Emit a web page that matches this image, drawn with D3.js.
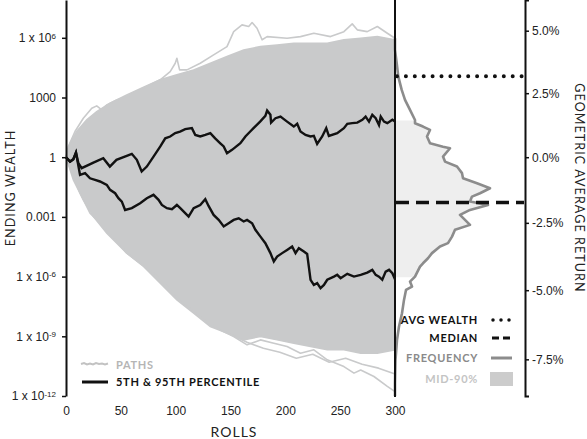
<!DOCTYPE html>
<html>
<head>
<meta charset="utf-8">
<script src="https://cdn.jsdelivr.net/npm/d3@7"></script>
<style>
  body { margin: 0; background: #fff; }
  .tick text { font-family: "Liberation Sans", Arial, sans-serif; font-size: 12px; fill: #222; }
  .title { font-family: Lato, "DejaVu Sans", sans-serif; font-size: 12.5px; letter-spacing: 1.1px; fill: #222; }
  .leg { font-family: Lato, "DejaVu Sans", sans-serif; font-size: 11px; letter-spacing: 0.7px; font-weight: bold; }
</style>
</head>
<body>
<svg width="587" height="439"></svg>
<script>
// ---- data (wealth given as log10 exponent) ----
// 95th percentile path
var p95Rolls = [0, 3.7, 6.7, 9.1, 11.3, 14.3, 25, 34, 40, 46, 55.4, 60, 64.6, 69, 73.7, 79.8, 86, 90.5, 95, 99.6, 104, 108.7, 114.8, 117.9, 122.4, 127, 131.6, 136, 140.7, 143.8, 146.8, 151.4, 159, 163.6, 168, 171, 177, 181.8, 183.4, 186.4, 187, 191, 195.6, 201.6, 207.7, 210.8, 213.8, 218.4, 223, 226, 229, 233.6, 237.3, 239.7, 247.3, 253.4, 256.5, 261, 265.6, 270.2, 273.2, 276.3, 279.3, 282.4, 285.4, 287, 290, 293, 297.6, 300];
var p95Exp   = [0, -0.22, -0.1, 0.23, -0.3, -0.55, -0.27, -0.05, -0.47, -0.13, 0.07, 0.17, -0.13, -0.72, -0.47, 0.03, 0.54, 0.95, 1.04, 1.21, 1.29, 1.41, 1.46, 1.12, 1.04, 1.12, 1.21, 0.95, 0.7, 0.54, 0.2, 0.37, 0.7, 1.04, 1.29, 1.46, 1.79, 2.08, 2.35, 2.13, 1.74, 1.96, 2.04, 1.79, 1.54, 1.68, 1.29, 1.12, 1.04, 1.07, 0.67, 1.04, 1.46, 1.07, 1.21, 1.46, 1.68, 1.71, 1.74, 1.88, 2.04, 1.79, 2.13, 1.96, 1.62, 2.04, 1.79, 1.71, 1.88, 1.79];

// 5th percentile path
var p5Rolls = [0, 3.7, 6.7, 9.1, 12.8, 17.4, 21.9, 26.5, 31, 37.2, 40.2, 44.8, 47.8, 50.9, 53.9, 60, 67.6, 73.7, 79.8, 84.4, 87.4, 92, 96.6, 101.1, 104.2, 108.7, 111.8, 116.4, 122.4, 127, 130, 134.6, 139.2, 143.8, 148.3, 152.9, 157.5, 162, 165.1, 169.7, 172.7, 177.3, 181.8, 186.4, 189.5, 192.5, 197.1, 201.6, 206.2, 209.3, 212.3, 216.9, 219.9, 221.4, 223, 226, 229, 232.1, 235.2, 238.2, 244.3, 247.3, 250.4, 256.5, 262.6, 268.7, 274.7, 279.3, 282.4, 285.4, 288.4, 291.5, 294.6, 297.6, 300];
var p5Exp   = [0, -0.22, -0.1, 0.23, -0.89, -0.8, -1.06, -1.14, -1.22, -1.39, -1.64, -1.81, -2.06, -2.23, -2.65, -2.56, -2.31, -2.06, -1.89, -2.14, -2.4, -2.56, -2.61, -2.4, -2.56, -2.81, -2.98, -2.56, -2.4, -2.11, -2.45, -2.9, -3.15, -3.48, -3.32, -3.15, -3.07, -3.23, -3.15, -3.32, -3.65, -3.99, -4.32, -4.82, -5.24, -4.99, -4.82, -4.66, -4.49, -4.82, -4.57, -4.74, -4.86, -5.49, -6.16, -6.42, -6.33, -6.58, -6.42, -6.16, -6, -5.91, -6.08, -5.86, -6, -5.91, -5.8, -5.66, -5.91, -6, -6.16, -5.75, -5.66, -5.83, -6.13];

// dense band of simulated paths (upper / lower edge)
var bandTopRolls = [0, 3.7, 9.7, 18.9, 28, 40.2, 55.4, 70.7, 85.9, 101.1, 116.4, 131.6, 146.8, 162, 177.3, 192.5, 207.7, 223, 238.2, 253.4, 268.7, 283.9, 300];
var bandTopExp   = [0, 0.7, 1.29, 1.88, 2.29, 2.71, 3.13, 3.52, 3.89, 4.14, 4.39, 4.72, 5.06, 5.39, 5.56, 5.64, 5.73, 5.73, 5.73, 5.9, 5.98, 6.06, 5.9];
var bandBotRolls = [0, 6.7, 15.8, 25, 37.2, 55.4, 70.7, 85.9, 101.1, 116.4, 131.6, 146.8, 162, 177.3, 192.5, 207.7, 223, 238.2, 253.4, 268.7, 283.9, 300];
var bandBotExp   = [0, -1.14, -2.14, -2.98, -3.82, -4.82, -5.49, -6.33, -7.17, -7.84, -8.51, -8.84, -9.18, -9.01, -9.18, -9.35, -9.51, -9.68, -9.68, -9.85, -9.85, -9.68];

// outlying single paths at the edges of the fan
var outTopRolls = [0, 2.1, 8.2, 15.8, 23.5, 28, 32.6, 37.2, 46.3, 55.4, 64.6, 73.7, 85.9, 95, 99.6, 101.1, 103.6, 110.3, 122.4, 134.6, 146.8, 152.9, 160.5, 166.6, 169.7, 174.2, 178.8, 183.4, 201.6, 213.8, 226, 241.2, 253.4, 261, 265.6, 274.7, 283.9, 293, 300];
var outTopExp   = [0, 0.54, 1.29, 1.96, 2.46, 2.58, 2.38, 2.63, 2.88, 3.05, 3.3, 3.55, 3.89, 4.3, 4.72, 4.97, 4.39, 4.39, 4.72, 5.14, 5.56, 6.31, 6.65, 6.57, 6.77, 6.48, 5.9, 6.06, 5.98, 6.06, 6.23, 6.06, 6.31, 6.7, 6.4, 6.31, 6.57, 6.23, 5.98];
var outBotRolls = [0, 12.8, 21.9, 34.1, 55.4, 67.6, 79.8, 95, 110.3, 125.5, 140.7, 152.9, 165.1, 177.3, 189.5, 201.6, 213.8, 226, 238.2, 253.4, 262.6, 268.7, 280.8, 293, 300];
var outBotExp   = [0, -1.81, -2.81, -3.48, -4.82, -5.33, -5.83, -6.67, -7.5, -8.17, -8.68, -9.01, -9.43, -9.18, -9.35, -9.51, -9.85, -9.68, -10.18, -10.52, -10.85, -10.69, -11.02, -11.52, -11.78];
var outMidRolls = [150, 165, 180, 195, 210, 225, 240, 255, 270, 285, 300];
var outMidExp   = [-8.9, -9.3, -9.6, -9.8, -10.1, -9.9, -10.3, -10.1, -10.4, -10.6, -10.9];

// distribution of ending wealth (frequency, right panel)
var histExp  = [5.98, 5.39, 4.72, 4.05, 3.38, 2.88, 2.38, 1.87, 1.71, 1.54, 1.37, 1.04, 0.7, 0.53, 0.45, 0.03, -0.22, -0.47, -0.8, -1.06, -1.31, -1.56, -1.81, -1.98, -2.23, -2.4, -2.65, -2.9, -3.4, -3.65, -3.99, -4.32, -4.49, -4.82, -5.08, -5.33, -5.5, -6, -6.25, -6.5, -6.67, -7.17, -7.84, -8.51, -9.18, -10.19, -11.34, -12];
var histFreq = [0, 0, 1.7, 3.3, 6.7, 10, 15, 20, 20, 28, 35, 32, 35, 48, 55, 48, 50, 62, 67, 68, 82, 95, 85, 77, 75, 93, 75, 65, 75, 60, 57, 53, 45, 37, 33, 28, 25, 20, 15, 17, 11, 9, 7, 4, 2, 0.5, 0, 0];

var avgWealthExp = 4.07;
var medianExp = -2.28;
var mid90Exp = [-6.03, 1.84];

var rollTicks = [0, 50, 100, 150, 200, 250, 300];
var wealthTicks = [1e-12, 1e-9, 1e-6, 1e-3, 1, 1e3, 1e6];
var wealthLabels = ["1 x 10|-12", "1 x 10|-9", "1 x 10|-6", "0.001", "1", "1000", "1 x 10|6"];
var returnTicks = [-7.5, -5, -2.5, 0, 2.5, 5];

// ---- scales ----
var svg = d3.select("svg");
var x = d3.scaleLinear().domain([0, 300]).range([66, 395]);
var y = d3.scaleLog().domain([1e-12, Math.pow(10, 7.9)]).range([396, 0]);
var fx = d3.scaleLinear().domain([0, 100]).range([395, 495]);

function zip(a, b) { return a.map(function (d, i) { return [d, b[i]]; }); }
var wline = d3.line()
  .x(function (d) { return x(d[0]); })
  .y(function (d) { return y(Math.pow(10, d[1])); });

var grey = "#c9cacb";

// dense fan of paths
var band = zip(bandTopRolls, bandTopExp).concat(zip(bandBotRolls, bandBotExp).reverse());
svg.append("path").attr("d", wline(band) + "Z").attr("fill", grey).attr("stroke", grey).attr("stroke-width", 1.5);

[[outTopRolls, outTopExp], [outBotRolls, outBotExp], [outMidRolls, outMidExp]].forEach(function (p) {
  svg.append("path").attr("d", wline(zip(p[0], p[1])))
    .attr("fill", "none").attr("stroke", grey).attr("stroke-width", 1.6).attr("stroke-linejoin", "round");
});

// percentile paths
[[p95Rolls, p95Exp], [p5Rolls, p5Exp]].forEach(function (p) {
  svg.append("path").attr("d", wline(zip(p[0], p[1])))
    .attr("fill", "none").attr("stroke", "#111").attr("stroke-width", 2.4).attr("stroke-linejoin", "miter");
});

// ---- right panel: distribution ----
var hist = zip(histExp, histFreq);
var fline = d3.line()
  .x(function (d) { return fx(d[1]); })
  .y(function (d) { return y(Math.pow(10, d[0])); });

var clip = svg.append("clipPath").attr("id", "mid90");
clip.append("rect")
  .attr("x", 395).attr("width", 130)
  .attr("y", y(Math.pow(10, mid90Exp[1])))
  .attr("height", y(Math.pow(10, mid90Exp[0])) - y(Math.pow(10, mid90Exp[1])));
svg.append("path")
  .attr("d", fline(hist) + "L" + fx(0) + "," + y(1e-12) + "L" + fx(0) + "," + y(Math.pow(10, 6)) + "Z")
  .attr("fill", "#eeeeee").attr("clip-path", "url(#mid90)");

svg.append("path").attr("d", fline(hist))
  .attr("fill", "none").attr("stroke", "#8c8c8c").attr("stroke-width", 2.6).attr("stroke-linejoin", "round");

svg.append("line")
  .attr("x1", 397).attr("x2", 524)
  .attr("y1", y(Math.pow(10, avgWealthExp))).attr("y2", y(Math.pow(10, avgWealthExp)))
  .attr("stroke", "#111").attr("stroke-width", 4).attr("stroke-linecap", "round")
  .attr("stroke-dasharray", "0 8.9");
svg.append("line")
  .attr("x1", 396).attr("x2", 524)
  .attr("y1", y(Math.pow(10, medianExp))).attr("y2", y(Math.pow(10, medianExp)))
  .attr("stroke", "#111").attr("stroke-width", 3.5)
  .attr("stroke-dasharray", "13 7");

// ---- axes ----
var yAxis = svg.append("g").attr("transform", "translate(66,0)")
  .call(d3.axisLeft(y).tickValues(wealthTicks).tickSize(4).tickSizeOuter(0).tickPadding(6)
    .tickFormat(function (d, i) { return wealthLabels[i]; }));
yAxis.selectAll(".tick text").each(function (d, i) {
  var parts = wealthLabels[i].split("|");
  var t = d3.select(this).text(parts[0]);
  if (parts.length > 1) {
    t.append("tspan").attr("dy", "-0.45em").style("font-size", "8px").text(parts[1]);
  }
});

var rAxis = svg.append("g").attr("transform", "translate(525,0)")
  .call(d3.axisRight(y)
    .tickValues(returnTicks.map(function (g) { return Math.pow(1 + g / 100, 300); }))
    .tickSize(4).tickSizeOuter(4).tickPadding(3)
    .tickFormat(function (d, i) { return returnTicks[i].toFixed(1) + "%"; }));

svg.append("g").attr("transform", "translate(0,396)")
  .call(d3.axisBottom(x).tickValues(rollTicks).tickSize(0).tickPadding(10))
  .select(".domain").remove();

[yAxis, rAxis].forEach(function (a) {
  a.select(".domain").attr("stroke", "#111").attr("stroke-width", 2);
  a.selectAll(".tick line").attr("stroke", "#111").attr("stroke-width", 1.5);
});

// divider at roll 300
svg.append("line").attr("x1", x(300)).attr("x2", x(300)).attr("y1", 0).attr("y2", 397)
  .attr("stroke", "#111").attr("stroke-width", 2);

// ---- titles ----
svg.append("text").attr("class", "title").attr("text-anchor", "middle")
  .attr("transform", "translate(15,188) rotate(-90)").text("ENDING WEALTH");
svg.append("text").attr("class", "title").attr("text-anchor", "middle")
  .attr("transform", "translate(575,188) rotate(90)").text("GEOMETRIC AVERAGE RETURN");
svg.append("text").attr("class", "title").attr("text-anchor", "middle")
  .style("font-size", "14px").style("letter-spacing", "1px")
  .attr("x", 234).attr("y", 437).text("ROLLS");

// ---- legends ----
svg.append("path").attr("d", "M81,364 l3,-1 l3,1.5 l3,-1 l3,1 l3,-1.5 l3,1 l3,-0.5 l3,1 l3,-1")
  .attr("fill", "none").attr("stroke", "#c2c2c2").attr("stroke-width", 2);
svg.append("text").attr("class", "leg").attr("x", 116).attr("y", 369).attr("fill", "#b5b5b5").text("PATHS");
svg.append("line").attr("x1", 82).attr("x2", 108).attr("y1", 382).attr("y2", 382)
  .attr("stroke", "#111").attr("stroke-width", 3);
svg.append("text").attr("class", "leg").attr("x", 116).attr("y", 386).attr("fill", "#111").text("5TH & 95TH PERCENTILE");

var rl = [
  { t: "AVG WEALTH", c: "#111", yy: 320 },
  { t: "MEDIAN", c: "#111", yy: 338 },
  { t: "FREQUENCY", c: "#8a8a8a", yy: 358 },
  { t: "MID-90%", c: "#c4c4c4", yy: 379 }
];
rl.forEach(function (d) {
  svg.append("text").attr("class", "leg").attr("text-anchor", "end")
    .attr("x", 478).attr("y", d.yy + 4).attr("fill", d.c).text(d.t);
});
svg.append("line").attr("x1", 493).attr("x2", 511).attr("y1", 320).attr("y2", 320)
  .attr("stroke", "#111").attr("stroke-width", 3.5).attr("stroke-linecap", "round").attr("stroke-dasharray", "0 8");
svg.append("line").attr("x1", 492).attr("x2", 510).attr("y1", 338).attr("y2", 338)
  .attr("stroke", "#111").attr("stroke-width", 3).attr("stroke-dasharray", "7 4");
svg.append("line").attr("x1", 491).attr("x2", 512).attr("y1", 358).attr("y2", 358)
  .attr("stroke", "#8c8c8c").attr("stroke-width", 3);
svg.append("rect").attr("x", 490).attr("y", 372).attr("width", 23).attr("height", 14).attr("fill", "#cccccc");
</script>
</body>
</html>
